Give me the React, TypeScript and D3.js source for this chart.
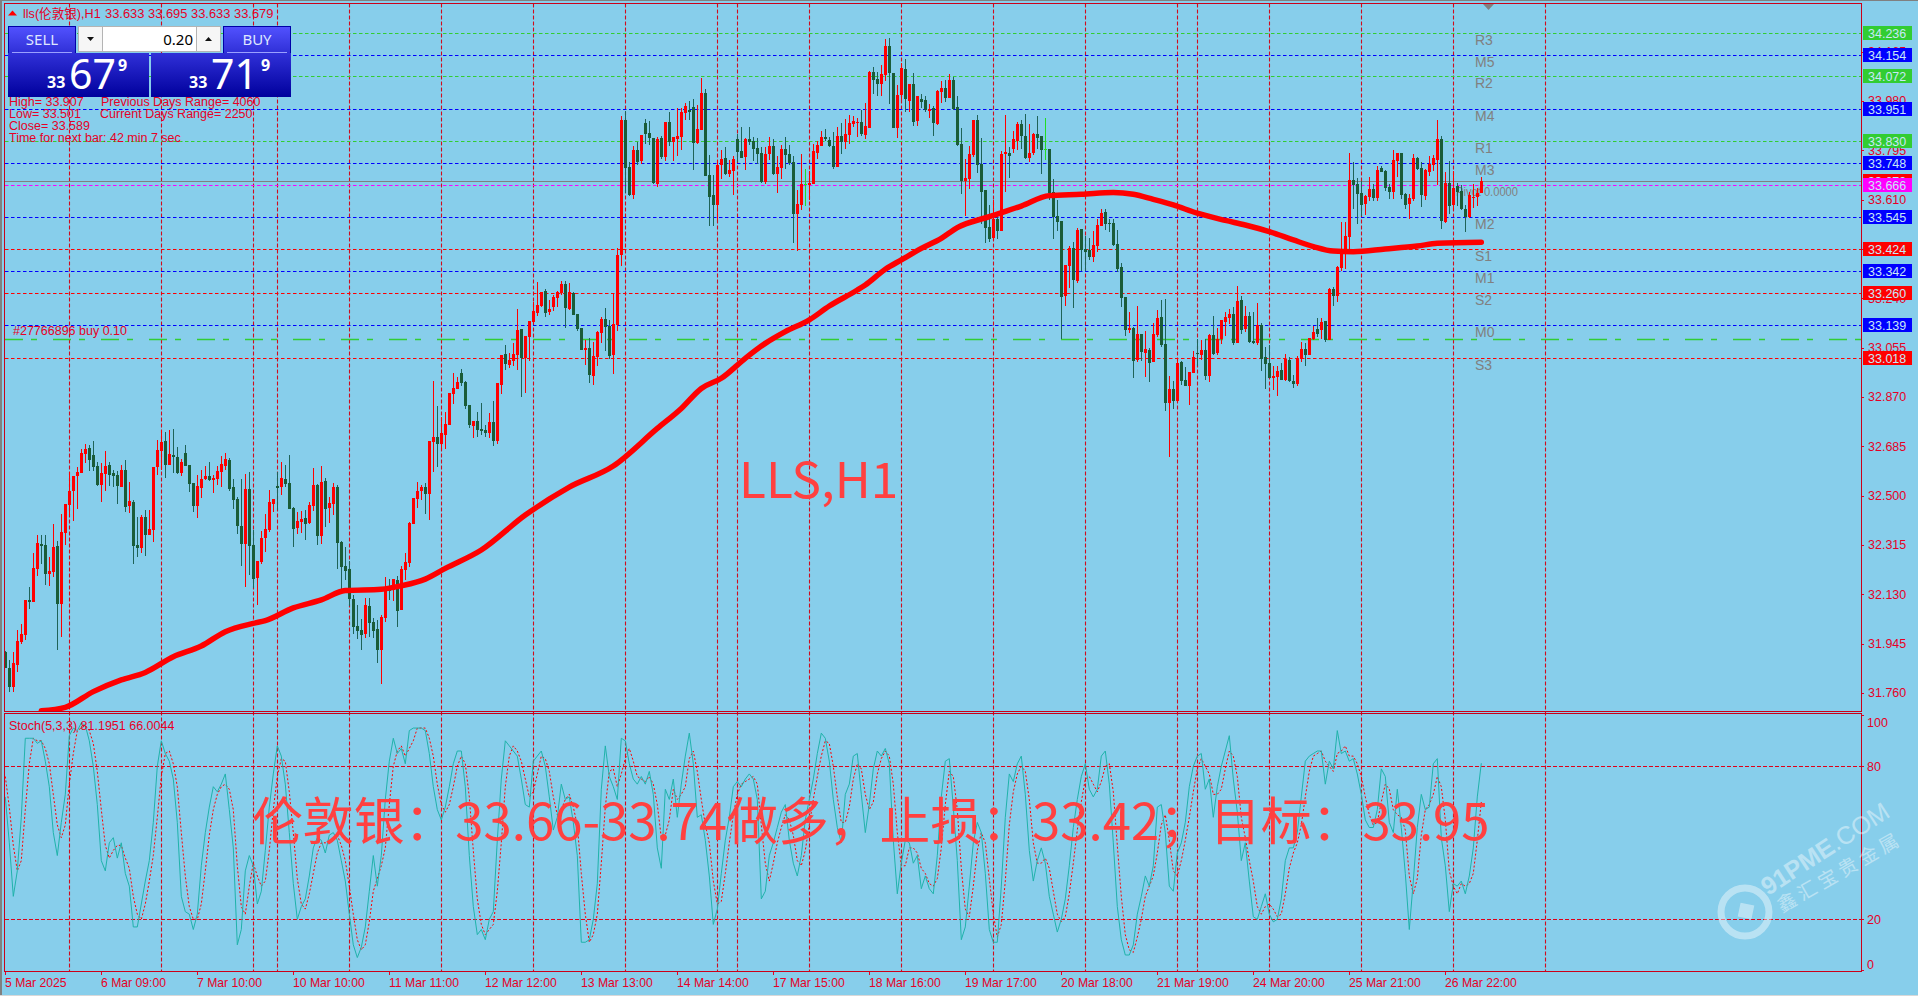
import React from "react";
import * as d3 from "d3";

const WIDTH = 1918;
const HEIGHT = 996;
const FRAME = { left: 4.5, right: 1861.5, mainTop: 3.5, mainBottom: 711.5, subTop: 713.5, subBottom: 971.5 };
const FONT = '"Liberation Sans", "Noto Sans CJK SC", sans-serif';
const CJK = '"Noto Sans CJK SC", sans-serif';
const AXIS_RED = "#e60026";

// open, high, low, close for each H1 bar
const candles: number[][] = [
[31.915,31.919,31.853,31.853],[31.854,31.884,31.762,31.784],[31.784,31.914,31.762,31.872],[31.866,31.996,31.839,31.954],[31.951,32.019,31.944,31.981],
[31.978,32.109,31.959,32.109],[32.109,32.156,32.075,32.103],[32.103,32.284,32.103,32.228],[32.225,32.353,32.200,32.321],[32.319,32.353,32.244,32.313],
[32.315,32.351,32.166,32.206],[32.206,32.270,32.161,32.218],[32.214,32.394,32.196,32.308],[32.311,32.329,31.921,32.094],[32.094,32.431,31.971,32.364],
[32.360,32.469,32.315,32.469],[32.465,32.590,32.424,32.518],[32.518,32.574,32.405,32.574],[32.574,32.606,32.450,32.589],[32.585,32.675,32.585,32.660],
[32.656,32.694,32.623,32.675],[32.679,32.690,32.593,32.634],[32.653,32.705,32.593,32.608],[32.611,32.626,32.536,32.540],[32.540,32.623,32.476,32.585],
[32.581,32.668,32.518,32.611],[32.615,32.626,32.536,32.578],[32.585,32.596,32.533,32.574],[32.578,32.593,32.469,32.536],[32.533,32.615,32.533,32.596],
[32.596,32.634,32.439,32.458],[32.461,32.551,32.435,32.480],[32.476,32.484,32.244,32.311],[32.315,32.420,32.270,32.304],[32.304,32.428,32.285,32.420],
[32.420,32.446,32.274,32.353],[32.353,32.446,32.353,32.375],[32.371,32.608,32.326,32.608],[32.608,32.709,32.578,32.671],[32.668,32.746,32.596,32.701],
[32.705,32.739,32.566,32.615],[32.615,32.746,32.615,32.656],[32.653,32.749,32.585,32.645],[32.645,32.683,32.581,32.585],[32.585,32.638,32.574,32.626],
[32.660,32.690,32.611,32.611],[32.615,32.615,32.514,32.544],[32.548,32.548,32.439,32.461],[32.461,32.578,32.416,32.536],[32.529,32.596,32.491,32.563],
[32.563,32.611,32.559,32.574],[32.574,32.626,32.555,32.559],[32.559,32.578,32.510,32.566],[32.563,32.611,32.540,32.593],[32.589,32.649,32.533,32.619],
[32.611,32.660,32.596,32.638],[32.634,32.641,32.518,32.525],[32.533,32.563,32.450,32.484],[32.488,32.495,32.356,32.386],[32.386,32.563,32.236,32.319],
[32.319,32.581,32.158,32.525],[32.525,32.589,32.203,32.311],[32.315,32.371,32.154,32.188],[32.191,32.255,32.090,32.255],[32.251,32.368,32.244,32.341],
[32.341,32.431,32.289,32.375],[32.371,32.521,32.364,32.476],[32.469,32.488,32.439,32.488],[32.536,32.589,32.446,32.529],[32.533,32.626,32.503,32.566],
[32.563,32.615,32.533,32.544],[32.548,32.653,32.450,32.450],[32.454,32.458,32.308,32.375],[32.379,32.439,32.356,32.405],[32.401,32.443,32.360,32.413],
[32.416,32.446,32.334,32.394],[32.398,32.476,32.394,32.465],[32.461,32.604,32.443,32.540],[32.540,32.544,32.315,32.349],[32.349,32.611,32.319,32.551],
[32.555,32.566,32.383,32.450],[32.454,32.495,32.398,32.473],[32.469,32.548,32.428,32.533],[32.533,32.540,32.225,32.323],[32.326,32.330,32.150,32.233],
[32.236,32.308,32.184,32.218],[32.225,32.255,32.086,32.113],[32.113,32.128,31.981,32.008],[32.011,32.090,31.963,31.993],[31.996,32.038,31.921,31.978],
[31.981,32.116,31.966,32.090],[32.086,32.116,31.970,32.023],[32.026,32.041,31.966,31.993],[32.000,32.034,31.873,31.921],[31.921,32.053,31.794,32.045],
[32.041,32.195,32.026,32.150],[32.154,32.188,32.109,32.143],[32.146,32.188,32.105,32.188],[32.184,32.199,32.008,32.068],[32.071,32.236,32.071,32.225],
[32.221,32.285,32.184,32.251],[32.248,32.401,32.233,32.398],[32.394,32.491,32.394,32.491],[32.488,32.551,32.454,32.518],[32.518,32.540,32.484,32.533],
[32.533,32.548,32.431,32.506],[32.506,32.705,32.409,32.705],[32.701,32.930,32.589,32.720],[32.720,32.836,32.608,32.694],[32.694,32.795,32.671,32.735],
[32.728,32.814,32.675,32.769],[32.765,32.885,32.765,32.885],[32.881,32.960,32.844,32.904],[32.900,32.945,32.900,32.926],[32.960,32.975,32.911,32.922],
[32.926,32.930,32.825,32.836],[32.840,32.840,32.754,32.765],[32.761,32.780,32.716,32.780],[32.780,32.814,32.720,32.746],[32.750,32.848,32.728,32.743],
[32.746,32.765,32.720,32.735],[32.735,32.810,32.716,32.776],[32.776,32.855,32.686,32.705],[32.705,32.922,32.694,32.922],[32.915,33.027,32.881,33.027],
[33.031,33.065,32.971,32.994],[32.990,33.035,32.979,33.009],[33.005,33.071,32.986,33.031],[33.027,33.200,32.971,33.121],[33.125,33.125,32.870,33.016],
[33.016,33.099,32.885,33.099],[33.095,33.155,33.005,33.155],[33.151,33.226,33.146,33.192],[33.185,33.302,33.174,33.215],[33.211,33.264,33.209,33.264],
[33.267,33.276,33.170,33.185],[33.189,33.234,33.177,33.200],[33.207,33.252,33.192,33.245],[33.241,33.267,33.207,33.264],[33.260,33.305,33.252,33.294],
[33.294,33.305,33.129,33.204],[33.200,33.297,33.196,33.264],[33.260,33.264,33.177,33.177],[33.181,33.181,33.117,33.125],[33.129,33.129,33.046,33.046],
[33.046,33.084,32.990,33.054],[33.054,33.090,32.922,32.952],[32.949,33.076,32.915,33.024],[33.020,33.117,32.986,33.114],[33.110,33.170,33.072,33.162],
[33.162,33.204,33.042,33.132],[33.136,33.159,33.012,33.024],[33.027,33.256,32.956,33.144],[33.140,33.429,33.117,33.402],[33.402,33.924,33.361,33.909],
[33.909,33.942,33.635,33.729],[33.732,33.751,33.624,33.627],[33.627,33.811,33.612,33.796],[33.796,33.826,33.740,33.751],[33.755,33.852,33.744,33.852],
[33.897,33.912,33.819,33.856],[33.860,33.905,33.815,33.841],[33.841,33.841,33.669,33.672],[33.669,33.845,33.657,33.837],[33.841,33.849,33.762,33.770],
[33.770,33.901,33.755,33.901],[33.901,33.939,33.811,33.826],[33.826,33.845,33.755,33.845],[33.837,33.954,33.774,33.849],[33.845,33.954,33.796,33.939],
[33.935,33.972,33.909,33.961],[33.946,33.980,33.909,33.939],[33.957,33.987,33.721,33.822],[33.822,33.965,33.819,33.875],[33.871,34.066,33.871,34.010],
[34.010,34.025,33.699,33.699],[33.702,33.777,33.511,33.620],[33.627,33.702,33.511,33.590],[33.590,33.759,33.534,33.740],[33.740,33.796,33.687,33.762],
[33.766,33.807,33.702,33.706],[33.706,33.759,33.695,33.721],[33.717,33.774,33.627,33.762],[33.837,33.856,33.751,33.789],[33.792,33.882,33.766,33.766],
[33.770,33.841,33.721,33.837],[33.837,33.882,33.815,33.826],[33.830,33.845,33.755,33.800],[33.804,33.841,33.744,33.781],[33.785,33.807,33.672,33.676],
[33.676,33.807,33.669,33.781],[33.781,33.845,33.759,33.811],[33.811,33.837,33.702,33.706],[33.706,33.774,33.635,33.732],[33.729,33.815,33.687,33.800],
[33.800,33.845,33.725,33.777],[33.781,33.815,33.740,33.747],[33.751,33.774,33.447,33.556],[33.556,33.646,33.417,33.594],[33.590,33.781,33.571,33.669],
[33.667,33.725,33.586,33.667],[33.665,33.717,33.609,33.672],[33.669,33.819,33.669,33.792],[33.785,33.830,33.762,33.815],[33.811,33.867,33.811,33.845],
[33.845,33.875,33.830,33.837],[33.834,33.845,33.807,33.811],[33.811,33.864,33.725,33.732],[33.732,33.882,33.732,33.849],[33.849,33.897,33.781,33.826],
[33.826,33.912,33.800,33.856],[33.852,33.927,33.819,33.897],[33.894,33.924,33.882,33.905],[33.897,33.916,33.845,33.901],[33.901,33.946,33.849,33.856],
[33.852,33.972,33.837,33.886],[33.879,34.092,33.879,34.089],[34.089,34.107,34.006,34.059],[34.062,34.089,33.999,34.044],[34.044,34.115,33.999,34.081],
[34.077,34.212,34.055,34.186],[34.186,34.216,33.969,34.085],[34.085,34.085,33.879,33.879],[33.879,34.040,33.841,34.002],[34.002,34.122,33.984,34.104],
[34.100,34.137,33.939,33.987],[33.980,34.044,33.939,34.044],[34.044,34.085,33.886,33.901],[33.905,33.999,33.886,33.999],[33.987,34.006,33.954,33.976],
[33.984,33.999,33.939,33.946],[33.942,33.969,33.916,33.950],[33.954,33.961,33.849,33.897],[33.894,34.021,33.890,34.017],[34.014,34.055,33.972,34.029],
[34.029,34.059,33.976,33.991],[33.991,34.081,33.991,34.059],[34.059,34.070,33.946,33.950],[33.957,33.999,33.811,33.815],[33.819,33.879,33.631,33.680],
[33.680,33.762,33.549,33.691],[33.687,33.811,33.650,33.781],[33.777,33.909,33.770,33.909],[33.909,33.927,33.710,33.740],[33.744,33.841,33.519,33.639],
[33.646,33.646,33.447,33.504],[33.507,33.590,33.451,33.462],[33.466,33.609,33.459,33.537],[33.537,33.556,33.462,33.492],[33.492,33.792,33.492,33.781],
[33.781,33.927,33.639,33.789],[33.785,33.807,33.691,33.774],[33.800,33.867,33.785,33.837],[33.830,33.901,33.796,33.894],[33.894,33.909,33.800,33.849],
[33.849,33.931,33.762,33.766],[33.766,33.894,33.751,33.785],[33.785,33.860,33.777,33.856],[33.856,33.924,33.800,33.841],[33.849,33.849,33.706,33.796],
[33.799,33.916,33.759,33.799],[33.800,33.800,33.609,33.635],[33.639,33.687,33.462,33.545],[33.549,33.609,33.492,33.526],[33.530,33.530,33.087,33.245],
[33.249,33.365,33.211,33.365],[33.361,33.436,33.279,33.429],[33.429,33.451,33.204,33.309],[33.305,33.504,33.297,33.496],[33.500,33.500,33.342,33.421],
[33.425,33.474,33.342,33.414],[33.421,33.466,33.384,33.395],[33.395,33.492,33.376,33.440],[33.436,33.537,33.414,33.515],[33.511,33.575,33.511,33.560],
[33.564,33.575,33.496,33.519],[33.522,33.537,33.489,33.519],[33.522,33.537,33.436,33.440],[33.444,33.496,33.339,33.350],[33.357,33.372,33.207,33.241],
[33.245,33.245,33.099,33.121],[33.121,33.189,33.110,33.129],[33.129,33.132,32.941,33.005],[33.009,33.211,33.001,33.106],[33.106,33.106,33.005,33.039],
[33.035,33.117,32.945,33.050],[33.046,33.054,32.926,32.997],[33.001,33.147,33.001,33.106],[33.102,33.196,33.095,33.166],[33.170,33.234,33.057,33.065],
[33.069,33.237,32.817,32.847],[32.847,32.949,32.645,32.900],[32.900,32.930,32.825,32.855],[32.855,33.016,32.851,32.997],[33.001,33.005,32.915,32.930],
[32.934,32.982,32.911,32.911],[32.911,32.964,32.840,32.964],[32.960,33.042,32.960,33.020],[33.035,33.087,32.986,33.031],[33.027,33.084,33.009,33.046],
[33.046,33.087,32.934,32.949],[32.949,33.106,32.926,33.102],[33.102,33.174,33.027,33.031],[33.035,33.129,33.027,33.087],[33.087,33.159,33.069,33.159],
[33.151,33.189,33.099,33.170],[33.166,33.200,33.144,33.181],[33.181,33.207,33.065,33.072],[33.072,33.286,33.072,33.230],[33.234,33.249,33.106,33.121],
[33.125,33.211,33.114,33.174],[33.174,33.189,33.072,33.076],[33.080,33.189,33.069,33.072],[33.072,33.222,33.065,33.140],[33.140,33.147,32.967,33.012],
[33.020,33.057,32.900,32.994],[32.997,33.065,32.941,32.941],[32.941,32.986,32.896,32.949],[32.945,32.986,32.874,32.967],[32.971,32.997,32.934,32.934],
[32.934,33.031,32.930,33.012],[33.009,33.020,32.926,32.930],[32.930,32.952,32.904,32.919],[32.919,33.024,32.911,33.016],[33.012,33.076,33.001,33.050],
[33.050,33.072,32.986,33.027],[33.027,33.091,33.027,33.091],[33.087,33.136,33.084,33.114],[33.125,33.166,33.095,33.106],[33.121,33.166,33.087,33.151],
[33.155,33.155,33.076,33.084],[33.084,33.279,33.084,33.275],[33.275,33.282,33.211,33.249],[33.249,33.361,33.226,33.357],[33.354,33.526,33.342,33.421],
[33.417,33.526,33.350,33.474],[33.470,33.785,33.417,33.684],[33.684,33.751,33.575,33.665],[33.669,33.691,33.519,33.631],[33.635,33.680,33.549,33.590],
[33.594,33.627,33.552,33.624],[33.620,33.695,33.605,33.650],[33.650,33.669,33.605,33.616],[33.616,33.736,33.605,33.721],[33.729,33.736,33.714,33.714],
[33.717,33.721,33.642,33.654],[33.657,33.669,33.612,33.639],[33.639,33.796,33.612,33.759],[33.755,33.785,33.695,33.785],[33.785,33.785,33.612,33.627],
[33.631,33.635,33.575,33.590],[33.594,33.631,33.537,33.616],[33.612,33.781,33.605,33.766],[33.766,33.770,33.721,33.725],[33.729,33.751,33.582,33.627],
[33.624,33.725,33.609,33.721],[33.714,33.774,33.699,33.744],[33.740,33.777,33.717,33.766],[33.759,33.909,33.665,33.837],[33.837,33.849,33.500,33.530],
[33.526,33.714,33.522,33.672],[33.672,33.755,33.556,33.586],[33.590,33.717,33.571,33.654],[33.661,33.672,33.586,33.639],[33.642,33.665,33.571,33.575],
[33.575,33.590,33.489,33.545],[33.545,33.639,33.541,33.627],[33.616,33.669,33.579,33.620],[33.620,33.654,33.586,33.635],[33.633,33.695,33.633,33.679],
];

// moving average, read at these bar numbers
const maBars = [9,15,22,29,35,42,49,55,62,65,72,79,85,94,99,105,110,119,130,141,152,163,169,174,179,185,190,195,201,206,213,215,220,224,229,234,238,246,254,261,269,277,282,287,292,298,305,310,316,322,327,332,337,345,353,358,369];
const maValues = [31.693,31.706,31.765,31.809,31.837,31.896,31.936,31.990,32.021,32.031,32.079,32.109,32.144,32.149,32.162,32.187,32.227,32.296,32.427,32.532,32.611,32.752,32.827,32.902,32.940,33.015,33.071,33.115,33.159,33.211,33.271,33.290,33.349,33.384,33.427,33.465,33.505,33.546,33.586,33.625,33.630,33.637,33.630,33.611,33.590,33.559,33.532,33.515,33.490,33.459,33.434,33.417,33.415,33.425,33.436,33.446,33.450];

const stochMain = [68,50,29,39,60,91,91,91,89,90,82,72,54,45,58,69,92,95,94,97,96,90,80,65,43,39,50,52,44,50,38,33,17,17,26,35,43,58,80,90,85,82,75,58,29,23,22,16,22,41,54,64,72,70,73,77,63,48,10,16,39,45,41,26,31,47,64,77,88,84,73,54,34,20,25,28,37,48,52,51,46,53,54,51,43,35,22,10,5,9,17,31,45,33,45,67,82,91,85,87,81,94,95,95,95,94,85,72,63,59,64,72,81,86,86,72,45,25,14,16,12,20,23,51,75,90,88,86,84,75,65,64,82,84,86,80,68,55,60,73,67,68,58,45,11,11,12,20,34,71,88,76,72,67,91,90,81,75,73,76,73,78,69,48,40,71,67,75,60,73,84,93,81,60,61,51,37,18,24,38,51,60,72,74,72,75,77,75,67,28,31,45,50,56,62,65,51,42,37,45,59,67,75,85,93,91,82,67,56,50,69,73,84,85,69,54,65,79,86,84,87,81,51,30,42,51,50,42,45,32,37,32,30,45,68,82,83,64,43,12,17,33,50,58,54,38,16,11,11,33,60,77,74,81,84,69,47,35,43,48,42,29,22,15,20,28,41,56,67,76,81,71,68,71,84,86,73,50,25,12,6,6,10,22,29,37,33,41,64,65,54,33,31,46,50,58,72,80,84,85,71,75,60,72,80,86,92,75,62,43,50,35,21,20,25,30,22,19,20,28,43,48,48,54,68,82,84,85,86,86,73,82,79,94,85,86,82,83,77,69,59,56,56,63,79,76,58,54,71,56,38,16,35,56,69,63,64,81,83,52,41,23,34,33,35,30,37,48,68,81.2];
const stochSignal = [76,64,49,39,43,63,81,91,90,90,87,81,69,57,52,57,73,85,94,95,96,94,89,78,63,49,44,47,49,49,44,40,29,22,20,26,35,45,60,76,85,86,81,72,54,37,25,20,20,26,39,53,63,69,72,73,71,63,41,25,22,33,42,37,33,35,47,63,76,83,82,70,54,36,26,24,30,38,46,50,50,50,51,53,49,43,33,22,12,8,10,19,31,36,41,48,65,80,86,88,84,87,90,95,95,95,91,84,73,65,62,65,72,80,84,81,68,47,28,18,14,16,18,31,50,72,84,88,86,82,75,68,70,77,84,83,78,68,61,63,67,69,64,57,38,22,11,14,22,42,64,78,79,72,77,83,87,82,76,75,74,76,73,65,52,53,59,71,67,69,72,83,86,78,67,57,50,35,26,27,38,50,61,69,73,74,75,76,73,57,42,35,42,50,56,61,59,53,43,41,47,57,67,76,84,90,89,80,68,58,58,64,75,81,79,69,63,66,77,83,86,84,73,54,41,41,48,48,46,40,38,34,33,36,48,65,78,76,63,40,24,21,33,47,54,50,36,22,13,18,35,57,70,77,80,78,67,50,42,42,44,40,31,22,19,21,30,42,55,66,75,76,73,70,74,80,81,70,49,29,14,8,7,13,20,29,33,37,46,57,61,51,39,37,43,51,60,70,79,83,80,77,69,69,71,79,86,84,76,60,52,43,35,25,22,25,26,24,21,22,30,40,46,50,57,68,78,84,85,86,82,80,78,85,86,88,84,84,81,76,68,61,57,58,66,73,71,63,61,60,55,37,30,36,53,63,65,69,76,72,59,39,33,30,34,33,34,38,51,66];

const levelNames = ["R3","M5","R2","M4","R1","M3","Pivot","M2","S1","M1","S2","M0","S3"];
const levelValues = [34.236,34.154,34.072,33.951,33.830,33.748,33.666,33.545,33.424,33.342,33.260,33.139,33.018];
const priceTicks = [34.165,33.980,33.795,33.610,33.425,33.240,33.055,32.870,32.685,32.500,32.315,32.130,31.945,31.760];
const stochTicks = [100,80,20,0];
const dayGridBars = [16,39,62,68,86,109,132,155,178,183,201,224,247,270,293,298,316,339,362,385];
const dateLabels = ["5 Mar 2025","6 Mar 09:00","7 Mar 10:00","10 Mar 10:00","11 Mar 11:00","12 Mar 12:00","13 Mar 13:00","14 Mar 14:00","17 Mar 15:00","18 Mar 16:00","19 Mar 17:00","20 Mar 18:00","21 Mar 19:00","24 Mar 20:00","25 Mar 21:00","26 Mar 22:00"];
const BID = 33.679;
const ORDER_PRICE = 33.089;

const levelColor = (name: string) =>
  name[0] === "R" ? "#32cd32" : name[0] === "M" ? "#0000ff" : name[0] === "S" ? "#ff0000" : "#ff00ff";

const xBar = d3.scaleLinear().domain([0, 369]).range([5.3, 1481.3]);
const yPrice = d3.scaleLinear().domain([34.236, 33.018]).range([32.7, 357.5]);
const yStoch = d3.scaleLinear().domain([80, 20]).range([766.3, 919.3]);

const maLine = d3.line<number>().x((_, i) => xBar(maBars[i])).y((d) => yPrice(d)).curve(d3.curveMonotoneX);
const stochLine = d3.line<number>().x((_, i) => xBar(i)).y((d) => yStoch(d));

const px = (v: number) => Math.round(v);

const Candles = () => (
  <g shapeRendering="crispEdges">
    {candles.map(([o, h, l, c], i) => {
      const x = Math.floor(xBar(i));
      const up = c > o;
      const doji = c === o;
      const fill = doji ? "#22dd22" : up ? "#ff0000" : "#1a5c38";
      const top = px(yPrice(Math.max(o, c)));
      const bottom = px(yPrice(Math.min(o, c)));
      const wickTop = px(yPrice(h));
      const wickBottom = px(yPrice(l));
      return (
        <g key={i} fill={fill}>
          <rect x={x} y={wickTop} width={1} height={Math.max(1, wickBottom - wickTop)} fill={doji ? fill : up ? "#ff0000" : "#1f6358"} />
          <rect x={x - 1} y={top} width={3} height={Math.max(1, bottom - top)} />
        </g>
      );
    })}
  </g>
);

const PriceTag = ({ value, fill }: { value: number; fill: string }) => {
  const y = yPrice(value);
  return (
    <g>
      <rect x={1863} y={px(y) - 7} width={49} height={14} fill={fill} />
      <text x={1868} y={px(y) + 4.5} fontSize={12.5} fill="#c8e8f6" fontFamily={FONT}>{value.toFixed(3)}</text>
    </g>
  );
};

const TradePanel = () => (
  <g fontFamily={FONT}>
    <defs>
      <linearGradient id="btn" x1="0" y1="0" x2="0" y2="1">
        <stop offset="0" stopColor="#5252ff" />
        <stop offset="1" stopColor="#2f2fd6" />
      </linearGradient>
      <linearGradient id="quote" x1="0" y1="0" x2="0" y2="1">
        <stop offset="0" stopColor="#3030d8" />
        <stop offset="1" stopColor="#00009c" />
      </linearGradient>
    </defs>
    <rect x={8.5} y={26.5} width={67} height={27} fill="url(#btn)" stroke="#0000a8" />
    <rect x={223.5} y={26.5} width={67} height={27} fill="url(#btn)" stroke="#0000a8" />
    <text x={42} y={45} textAnchor="middle" fontSize={15} fill="#dfe6ff" fontFamily='"Noto Sans", sans-serif'>SELL</text>
    <text x={257} y={45} textAnchor="middle" fontSize={15} fill="#dfe6ff" fontFamily='"Noto Sans", sans-serif'>BUY</text>
    <rect x={78.5} y={26.5} width={142} height={25} fill="#ffffff" stroke="#b4b4b4" />
    <rect x={78.5} y={26.5} width={24} height={25} fill="#f6f6f6" stroke="#b4b4b4" />
    <rect x={196.5} y={26.5} width={24} height={25} fill="#f6f6f6" stroke="#b4b4b4" />
    <path d="M87 37h7l-3.5 4z" fill="#111" />
    <path d="M205 41h7l-3.5 -4z" fill="#111" />
    <text x={193} y={45} textAnchor="end" fontSize={15} fill="#000" fontFamily='"Noto Sans", sans-serif'>0.20</text>
    <rect x={8} y={53} width={141} height={44} fill="url(#quote)" />
    <rect x={151} y={53} width={140} height={44} fill="url(#quote)" />
    <path d="M12 52.5h60M227 52.5h60" stroke="#9aa0ff" />
    <g fill="#ffffff" fontFamily='"Noto Sans", sans-serif'>
      <text x={47} y={88} fontSize={16} fontWeight="bold">33</text>
      <text x={69} y={89} fontSize={41}>67</text>
      <text x={118} y={71} fontSize={16} fontWeight="bold">9</text>
      <text x={189} y={88} fontSize={16} fontWeight="bold">33</text>
      <text x={211} y={89} fontSize={41}>71</text>
      <text x={261} y={71} fontSize={16} fontWeight="bold">9</text>
    </g>
  </g>
);

const Watermark = () => (
  <g fill="#ffffff" opacity={0.42}>
    <circle cx={1745} cy={912} r={24} fill="none" stroke="#ffffff" strokeWidth={7} />
    <rect x={-7} y={-7} width={14} height={14} transform="translate(1746,911) rotate(12)" />
    <text transform="translate(1768,896) rotate(-33)" fontSize={25} fontWeight="bold" fontFamily={FONT}>
      91PME<tspan fontWeight="normal">.COM</tspan>
    </text>
    <text transform="translate(1782,913) rotate(-30)" fontSize={19} letterSpacing={4.5} fontFamily={CJK}>鑫汇宝贵金属</text>
  </g>
);

export default function App() {
  return (
    <svg width={WIDTH} height={HEIGHT} style={{ position: "fixed", left: 0, top: 0, display: "block" }} fontFamily={FONT}>
      <defs>
        <clipPath id="mainClip">
          <rect x={FRAME.left} y={FRAME.mainTop} width={FRAME.right - FRAME.left} height={FRAME.mainBottom - FRAME.mainTop} />
        </clipPath>
        <clipPath id="subClip">
          <rect x={FRAME.left} y={FRAME.subTop} width={FRAME.right - FRAME.left} height={FRAME.subBottom - FRAME.subTop} />
        </clipPath>
      </defs>
      <rect width={WIDTH} height={HEIGHT} fill="#87ceeb" />
      <rect width={2} height={HEIGHT} fill="#808080" />
      <rect width={WIDTH} height={1} fill="#808080" />
      <rect y={HEIGHT - 1} width={WIDTH} height={1} fill="#d8d8d8" />

      {/* day separators */}
      <g stroke="#d00c1e" strokeWidth={1.1} strokeDasharray="4 2">
        {dayGridBars.map((b) => (
          <line key={b} x1={Math.floor(xBar(b)) + 0.5} x2={Math.floor(xBar(b)) + 0.5} y1={FRAME.mainTop} y2={FRAME.subBottom} />
        ))}
      </g>

      {/* pivot levels */}
      <g strokeDasharray="3.5 2.5" strokeWidth={1.2}>
        {levelNames.map((n, i) => (
          <line key={n} x1={5} x2={FRAME.right} y1={px(yPrice(levelValues[i])) + 0.5} y2={px(yPrice(levelValues[i])) + 0.5} stroke={levelColor(n)} />
        ))}
      </g>
      <line x1={5} x2={FRAME.right} y1={px(yPrice(ORDER_PRICE)) + 0.5} y2={px(yPrice(ORDER_PRICE)) + 0.5} stroke="#32cd32" strokeWidth={1.3} strokeDasharray="18 8 6 16" />
      <line x1={5} x2={FRAME.right} y1={px(yPrice(BID)) + 0.5} y2={px(yPrice(BID)) + 0.5} stroke="#808080" strokeWidth={1.2} />

      {/* level captions */}
      <g fill="#808080" fontSize={14}>
        {levelNames.map((n, i) =>
          n === "Pivot" ? (
            <text key={n} x={1456} y={yPrice(levelValues[i]) + 11.5} fontSize={13} textLength={62} lengthAdjust="spacingAndGlyphs">Pivot 0.0000</text>
          ) : (
            <text key={n} x={1475} y={yPrice(levelValues[i]) + 12}>{n}</text>
          )
        )}
      </g>

      <g clipPath="url(#mainClip)">
        <Candles />
        <path d={maLine(maValues) ?? ""} fill="none" stroke="#ff0000" strokeWidth={5.5} strokeLinejoin="round" strokeLinecap="round" />
      </g>
      <path d="M1483 4h11l-5.5 6z" fill="#808080" />

      <text x={13} y={335} fontSize={12.5} fill="#e60026">#27766896 buy 0.10</text>

      {/* top left info */}
      <path d="M8 15.5h9l-4.5 -5z" fill="#ff0000" />
      <text x={23} y={18} fontSize={12.6} fill={AXIS_RED}>lls(伦敦银),H1</text>
      <text x={105} y={18} fontSize={12.9} fill={AXIS_RED}>33.633 33.695 33.633 33.679</text>
      <g fontSize={12.5} fill={AXIS_RED}>
        <text x={9} y={106}>High= 33.907</text>
        <text x={101} y={106}>Previous Days Range= 4060</text>
        <text x={9} y={118}>Low= 33.501</text>
        <text x={100} y={118}>Current Days Range= 2250</text>
        <text x={9} y={130}>Close= 33.589</text>
        <text x={9} y={142}>Time for next bar: 42 min 7 sec</text>
      </g>
      <TradePanel />

      <text x={739} y={498} fontSize={49.5} fill="#ff4040" fontFamily={CJK}>LLS,H1</text>

      {/* stochastic */}
      <line x1={5} x2={FRAME.right} y1={766.5} y2={766.5} stroke="#e00016" strokeWidth={1.1} strokeDasharray="4 2" />
      <line x1={5} x2={FRAME.right} y1={919.5} y2={919.5} stroke="#e00016" strokeWidth={1.1} strokeDasharray="4 2" />
      <g clipPath="url(#subClip)" fill="none">
        <path d={stochLine(stochSignal) ?? ""} stroke="#ff0000" strokeDasharray="2 2" />
        <path d={stochLine(stochMain) ?? ""} stroke="#20b2aa" />
      </g>
      <text x={9} y={730} fontSize={12.5} fill={AXIS_RED}>Stoch(5,3,3) 81.1951 66.0044</text>
      <text x={252} y={839.5} fontSize={50.85} fill="#ff4040" fontFamily={CJK}>伦敦银：33.66-33.74做多，止损：33.42；目标：33.95</text>

      {/* frames */}
      <g fill="none" stroke="#cc0018" shapeRendering="crispEdges">
        <rect x={FRAME.left} y={FRAME.mainTop} width={FRAME.right - FRAME.left} height={FRAME.mainBottom - FRAME.mainTop} />
        <rect x={FRAME.left} y={FRAME.subTop} width={FRAME.right - FRAME.left} height={FRAME.subBottom - FRAME.subTop} />
      </g>

      {/* price axis */}
      <g fontSize={12.5} fill={AXIS_RED}>
        {priceTicks.map((t) => (
          <g key={t}>
            <rect x={1862} y={px(yPrice(t))} width={2} height={1} />
            <text x={1868} y={yPrice(t) + 4.5}>{t.toFixed(3)}</text>
          </g>
        ))}
        {stochTicks.map((t) => (
          <g key={t}>
            <rect x={1862} y={px(yStoch(t))} width={2} height={1} />
            <text x={1867} y={t === 100 ? 726.5 : t === 0 ? 968.5 : yStoch(t) + 4.5}>{t}</text>
          </g>
        ))}
      </g>
      <g fontSize={12.2} fill={AXIS_RED}>
        {dateLabels.map((d, i) => (
          <g key={d}>
            <rect x={Math.floor(xBar(i * 24))} y={972} width={1} height={3} />
            <text x={Math.floor(xBar(i * 24))} y={986.5}>{d}</text>
          </g>
        ))}
      </g>

      {/* price tags */}
      <PriceTag value={BID} fill="#ff0000" />
      {levelNames.map((n, i) => (
        <PriceTag key={n} value={levelValues[i]} fill={levelColor(n)} />
      ))}

      <Watermark />
    </svg>
  );
}
